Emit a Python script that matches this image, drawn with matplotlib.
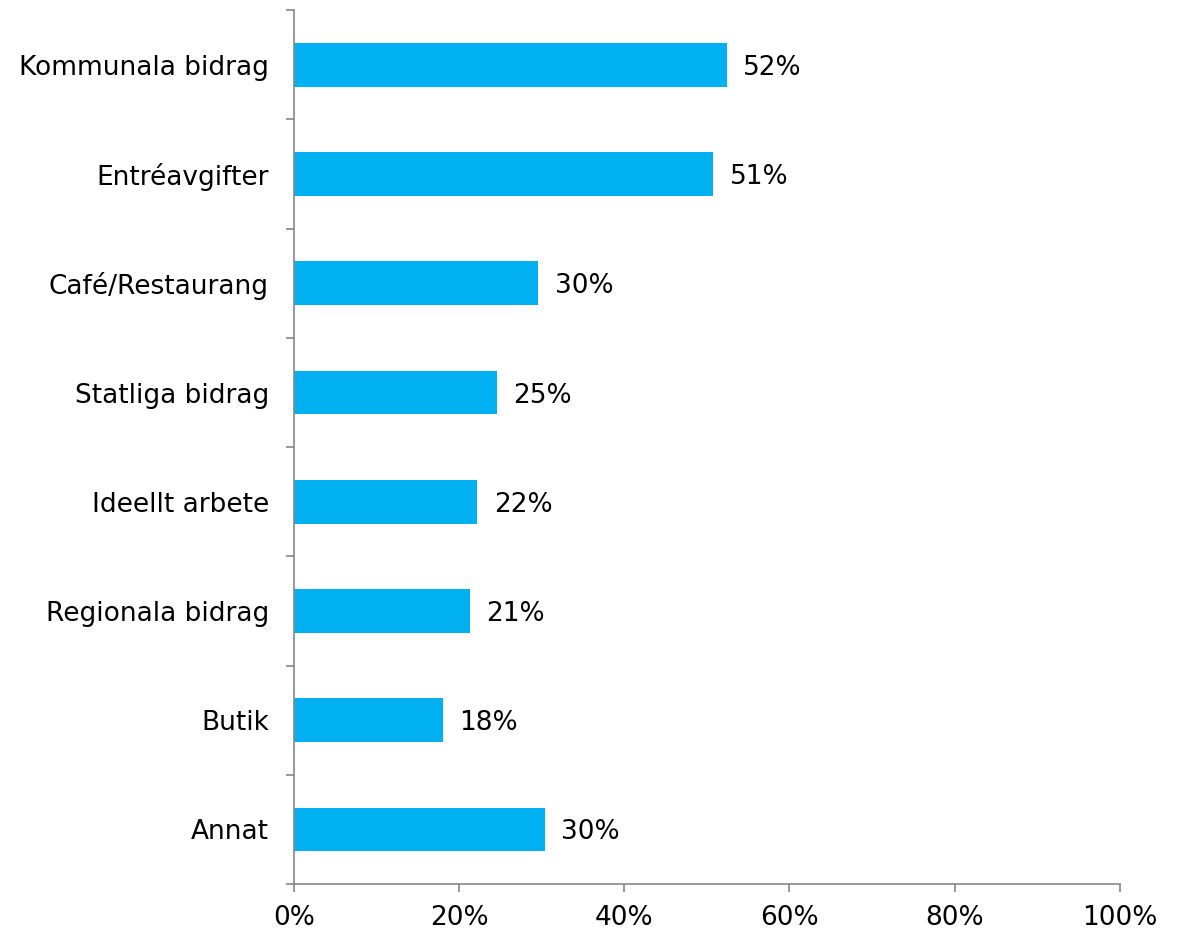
import numpy as np
import matplotlib
matplotlib.use('Agg')
import matplotlib.pyplot as plt
from matplotlib.ticker import FixedLocator

# data (top to bottom)
categories = ['Kommunala bidrag', 'Entréavgifter', 'Café/Restaurang', 'Statliga bidrag',
              'Ideellt arbete', 'Regionala bidrag', 'Butik', 'Annat']
values = [52.4, 50.8, 29.6, 24.6, 22.2, 21.3, 18.0, 30.4]
xticks = [0, 20, 40, 60, 80, 100]

fig = plt.figure(figsize=(11.8, 9.32), dpi=100)
ax = fig.add_axes([0.249, 0.0515, 0.7, 0.9375])

y = np.arange(len(categories))[::-1]
ax.barh(y, values, height=0.4, color='#00B0F0')

for yi, v in zip(y, values):
    ax.text(v + 2, yi, '%.0f%%' % v, va='center_baseline', ha='left', fontsize=19)

ax.set_xlim(0, 100)
ax.set_ylim(-0.5, len(categories) - 0.5)
ax.set_xticks(xticks)
ax.set_xticklabels(['%d%%' % t for t in xticks], fontsize=19)
ax.set_yticks(y)
ax.set_yticklabels(categories, fontsize=19)
ax.yaxis.set_minor_locator(FixedLocator(np.arange(-0.5, len(categories), 1)))

grey = '#868686'
for s in ['top', 'right']:
    ax.spines[s].set_visible(False)
for s in ['left', 'bottom']:
    ax.spines[s].set_color(grey)
    ax.spines[s].set_linewidth(1.2)
ax.tick_params(axis='y', which='major', length=0, pad=18)
ax.tick_params(axis='y', which='minor', length=6, color=grey, width=1.2)
ax.tick_params(axis='x', length=6, color=grey, width=1.2, pad=9)

plt.savefig('out.png', dpi=100)
